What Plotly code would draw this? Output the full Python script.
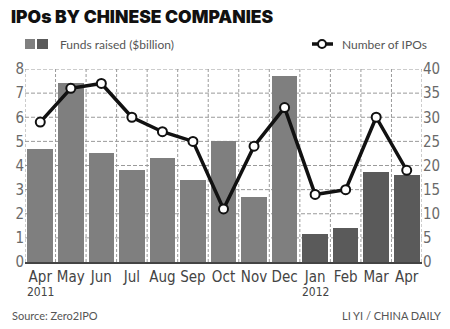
import plotly.graph_objects as go
from plotly.subplots import make_subplots

# Monthly IPO data, April 2011 - April 2012
months = ["Apr", "May", "Jun", "Jul", "Aug", "Sep", "Oct", "Nov", "Dec",
          "Jan", "Feb", "Mar", "Apr"]
years = ["2011", "", "", "", "", "", "", "", "", "2012", "", "", ""]
funds_raised = [4.7, 7.4, 4.5, 3.8, 4.3, 3.4, 5.0, 2.7, 7.7, 1.15, 1.4, 3.75, 3.6]
num_ipos = [29, 36, 37, 30, 27, 25, 11, 24, 32, 14, 15, 30, 19]
funds_ticks = list(range(0, 9))
ipo_ticks = list(range(0, 41, 5))

LIGHT = "#7f7f7f"
DARK = "#5a5a5a"
GRAY_TEXT = "#6a6a6a"
GRID = "#9a9a9a"
NARROW = "Liberation Sans Narrow, DejaVu Sans Condensed, Arial Narrow, sans-serif"

x = list(range(len(months)))
bar_colors = [DARK if i > 8 else LIGHT for i in x]

W, H = 450, 329
L, R, T, B = 25, 28, 69, 67
pw, ph = W - L - R, H - T - B

fig = make_subplots(specs=[[{"secondary_y": True}]])

fig.add_trace(go.Bar(x=x, y=funds_raised, marker=dict(color=bar_colors, line=dict(width=0)),
                     width=0.84, name="Funds raised ($billion)", showlegend=False),
              secondary_y=False)
fig.add_trace(go.Scatter(x=x, y=num_ipos, mode="lines+markers", name="Number of IPOs",
                         line=dict(color="#111111", width=3.5),
                         marker=dict(size=9, color="white", line=dict(color="#111111", width=2)),
                         showlegend=False),
              secondary_y=True)

fig.update_xaxes(domain=[0, 1], range=[-0.5, len(months) - 0.5], tickmode="array",
                 tickvals=x, ticktext=months,
                 tickangle=0, tickfont=dict(family=NARROW, size=15, color="#444444"),
                 showgrid=False, showline=True, linecolor="#444444", linewidth=2,
                 zeroline=False, automargin=False)
fig.update_yaxes(range=[0, 8], tickvals=funds_ticks,
                 tickfont=dict(family=NARROW, size=15, color=GRAY_TEXT),
                 zeroline=False, showgrid=False, automargin=False, secondary_y=False)
fig.update_yaxes(range=[0, 40], tickvals=ipo_ticks,
                 tickfont=dict(family=NARROW, size=15, color=GRAY_TEXT),
                 showgrid=False, zeroline=False, automargin=False, secondary_y=True)

# dashed grid: one horizontal line per funds tick, one vertical line between months
shapes = []
for v in funds_ticks[1:]:
    shapes.append(dict(type="line", xref="paper", yref="y", x0=0, x1=1, y0=v, y1=v,
                       layer="below", line=dict(color=GRID, width=1, dash="4px,2px")))
for i in range(len(months) + 1):
    shapes.append(dict(type="line", xref="x", yref="paper", x0=i - 0.5, x1=i - 0.5, y0=0, y1=1,
                       layer="below", line=dict(color=GRID, width=1, dash="3px,2px")))

def px_point(px, py):
    return (px - L) / pw, 1 - (py - T) / ph

def px_box(x0, y0, x1, y1):
    a, b = px_point(x0, y0)
    c, d = px_point(x1, y1)
    return dict(x0=a, y0=b, x1=c, y1=d)

def label(text, px, py, anchor, size, color="#555555", family="Lato, sans-serif", weight=None):
    xx, yy = px_point(px, py)
    font = dict(family=family, size=size, color=color)
    if weight:
        font["weight"] = weight
    return dict(text=text, x=xx, y=yy, xref="paper", yref="paper", xanchor=anchor,
                yanchor="middle", showarrow=False, font=font)

annotations = [
    label("IPOs BY CHINESE COMPANIES", 9, 17, "left", 17.5, "#111111",
          "Inter, Roboto, Liberation Sans, sans-serif", 900),
    label("Funds raised ($billion)", 58, 44, "left", 12),
    label("Number of IPOs", 340, 44, "left", 12),
    label("Source: Zero2IPO", 10, 315, "left", 11),
    label("LI YI / CHINA DAILY", 443, 315, "right", 11),
]
# year markers under the first month of each year
_, year_y = px_point(0, 292)
for i, yr in enumerate(years):
    if yr:
        annotations.append(dict(text=yr, x=i, y=year_y, xref="x", yref="paper",
                                xanchor="center", yanchor="middle", showarrow=False,
                                font=dict(family=NARROW, size=12, color="#444444")))

shapes += [
    dict(type="rect", xref="paper", yref="paper", fillcolor=LIGHT, line=dict(width=0),
         **px_box(25, 39, 35, 49)),
    dict(type="rect", xref="paper", yref="paper", fillcolor=DARK, line=dict(width=0),
         **px_box(37, 39, 48, 49)),
    dict(type="line", xref="paper", yref="paper", line=dict(color="#111111", width=3.5),
         **px_box(312, 44, 333, 44)),
    dict(type="circle", xref="paper", yref="paper", fillcolor="white",
         line=dict(color="#111111", width=2), **px_box(318, 40, 326, 48)),
]

fig.update_layout(
    width=W, height=H, margin=dict(l=L, r=R, t=T, b=B),
    paper_bgcolor="white", plot_bgcolor="rgba(0,0,0,0)",
    annotations=annotations, shapes=shapes, bargap=0,
)

fig.write_html("out.html")
